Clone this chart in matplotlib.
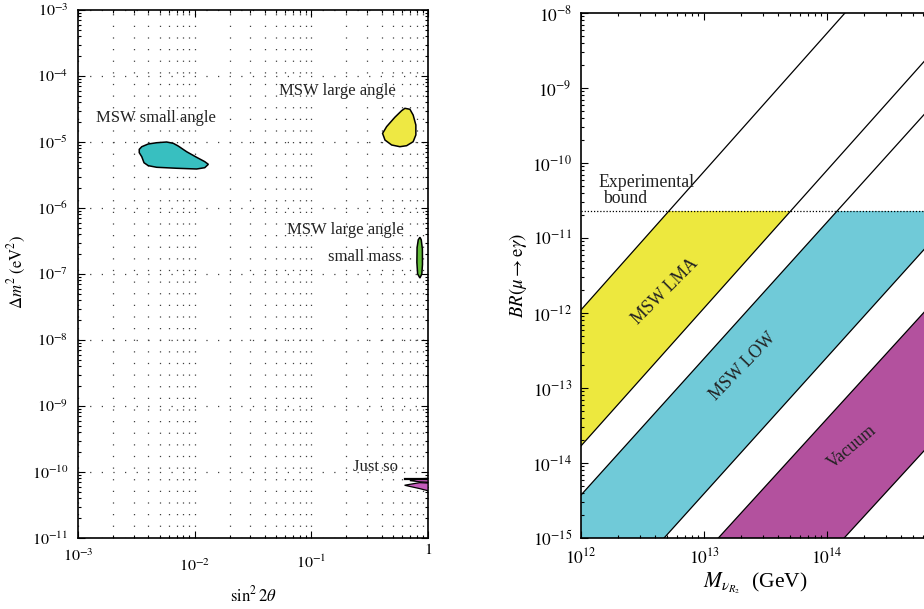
import numpy as np
import matplotlib
matplotlib.use('Agg')
import matplotlib.pyplot as plt
from matplotlib.patches import Rectangle
from matplotlib.ticker import FixedLocator, FixedFormatter, LogLocator, NullFormatter

plt.rcParams['font.family'] = 'serif'
plt.rcParams['font.serif'] = ['Liberation Serif', 'DejaVu Serif']
plt.rcParams['mathtext.fontset'] = 'stix'

# ---------------- Left panel data (solar neutrino solutions) ----------------
sma_x = [3.35e-3, 3.52e-3, 4.0e-3, 4.72e-3, 5.75e-3, 6.56e-3, 7.23e-3, 8.53e-3, 1.04e-2,
         1.22e-2, 1.31e-2, 1.22e-2, 1.04e-2, 7.0e-3, 4.72e-3, 4.0e-3, 3.68e-3, 3.52e-3, 3.35e-3]
sma_y = [7.74e-6, 8.49e-6, 9.33e-6, 9.75e-6, 1.0e-5, 9.55e-6, 8.69e-6, 7.13e-6, 5.86e-6,
         5.04e-6, 4.59e-6, 4.08e-6, 3.90e-6, 4.0e-6, 4.14e-6, 4.38e-6, 4.85e-6, 5.98e-6, 6.89e-6]

lma_x = [0.408, 0.442, 0.520, 0.594, 0.634, 0.700, 0.746, 0.787, 0.787, 0.746, 0.656, 0.574, 0.488, 0.428]
lma_y = [1.35e-5, 1.71e-5, 2.37e-5, 2.98e-5, 3.24e-5, 3.13e-5, 2.56e-5, 1.81e-5, 1.28e-5,
         1.01e-5, 8.79e-6, 8.49e-6, 9.01e-6, 1.07e-5]

low_x = [0.853, 0.875, 0.895, 0.897, 0.885, 0.853, 0.815, 0.803, 0.806, 0.825]
low_y = [3.6e-7, 3.3e-7, 2.4e-7, 1.4e-7, 1.0e-7, 8.7e-8, 1.0e-7, 1.5e-7, 2.5e-7, 3.3e-7]

js1_x = [0.70, 0.85, 1.0, 1.0, 0.85]
js1_y = [7.4e-11, 7.9e-11, 8.0e-11, 7.0e-11, 7.1e-11]
js2_x = [0.63, 0.85, 1.0, 1.0, 0.85]
js2_y = [6.3e-11, 6.9e-11, 6.8e-11, 5.2e-11, 5.6e-11]
js_line_x = [0.63, 1.0]
js_line_y = [7.8e-11, 7.8e-11]

left_xticks = [1e-3, 1e-2, 1e-1, 1]
left_xticklabels = [r'$10^{-3}$', r'$10^{-2}$', r'$10^{-1}$', r'$1$']
left_xlabel_pads = [7.2, 14.4, 12.2, 2.9]
left_yticks = [1e-11, 1e-10, 1e-9, 1e-8, 1e-7, 1e-6, 1e-5, 1e-4, 1e-3]
left_yticklabels = [r'$10^{-11}$', r'$10^{-10}$', r'$10^{-9}$', r'$10^{-8}$', r'$10^{-7}$',
                    r'$10^{-6}$', r'$10^{-5}$', r'$10^{-4}$', r'$10^{-3}$']

# ---------------- Right panel data (BR(mu -> e gamma) bands) ----------------
M_ends = [1e12, 1e15]
lma_upper = [1.10e-12, 3.76e-7]
lma_lower = [1.69e-14, 5.5e-9]
low_upper = [3.74e-15, 1.07e-9]
low_lower = [5.9e-17, 1.7e-11]
vac_upper = [9.8e-18, 2.45e-12]
vac_lower = [1.48e-19, 3.47e-14]
exp_bound = 2.3e-11

right_xticks = [1e12, 1e13, 1e14, 1e15]
right_xticklabels = [r'$10^{12}$', r'$10^{13}$', r'$10^{14}$', '']
right_yticks = [1e-15, 1e-14, 1e-13, 1e-12, 1e-11, 1e-10, 1e-9, 1e-8]
right_yticklabels = [r'$10^{-15}$', r'$10^{-14}$', r'$10^{-13}$', r'$10^{-12}$',
                     r'$10^{-11}$', r'$10^{-10}$', r'$10^{-9}$', r'$10^{-8}$']

W, H = 924, 609
fig = plt.figure(figsize=(W / 100, H / 100), dpi=100)

def frac(x0, y_top, x1, y_bot):
    return [x0 / W, 1 - y_bot / H, (x1 - x0) / W, (y_bot - y_top) / H]

axL = fig.add_axes(frac(78, 10, 428, 538))
axR = fig.add_axes(frac(581, 13, 950, 538))

for ax, ls in ((axL, 11.5), (axR, 12.5)):
    ax.set_xscale('log')
    ax.set_yscale('log')
    for s in ax.spines.values():
        s.set_linewidth(1.2)
    ax.tick_params(which='both', direction='in', top=True, right=True, width=0.8,
                   labelsize=ls)
    ax.tick_params(which='major', length=5)
    ax.tick_params(which='minor', length=2.5)

# ---------- Left ----------
axL.set_xlim(1e-3, 1)
axL.set_ylim(1e-11, 1e-3)
axL.xaxis.set_major_locator(FixedLocator(left_xticks))
axL.xaxis.set_major_formatter(FixedFormatter(left_xticklabels))
axL.xaxis.set_minor_locator(LogLocator(base=10, subs=np.arange(2, 10)))
axL.xaxis.set_minor_formatter(NullFormatter())
axL.yaxis.set_major_locator(FixedLocator(left_yticks))
axL.yaxis.set_major_formatter(FixedFormatter(left_yticklabels))
axL.yaxis.set_minor_locator(LogLocator(base=10, subs=np.arange(2, 10)))
axL.yaxis.set_minor_formatter(NullFormatter())
axL.tick_params(axis='y', which='major', pad=7)
for t, p in zip(axL.xaxis.get_major_ticks(), left_xlabel_pads):
    t.set_pad(p)

grid_ls = (0, (1, 8.3))
axL.grid(True, axis='x', which='both', color='0.25', lw=0.9, ls=grid_ls)
axL.grid(True, axis='y', which='major', color='0.25', lw=0.9, ls=grid_ls)
axL.set_axisbelow(True)

axL.fill(sma_x, sma_y, facecolor='#38bfc0', edgecolor='black', lw=1.1, zorder=3)
axL.fill(lma_x, lma_y, facecolor='#eee843', edgecolor='black', lw=1.1, zorder=3)
axL.fill(low_x, low_y, facecolor='#62bb38', edgecolor='black', lw=1.1, zorder=3)
axL.fill(js1_x, js1_y, facecolor='#c45cba', edgecolor='black', lw=0.9, zorder=3)
axL.fill(js2_x, js2_y, facecolor='#c45cba', edgecolor='black', lw=0.9, zorder=3)
axL.plot(js_line_x, js_line_y, color='black', lw=1.6, zorder=3)

tkw = dict(fontsize=12, color='#222222', zorder=4)
axL.text(10**-2.332, 10**-4.629, 'MSW small angle', ha='center', va='center', **tkw)
axL.text(10**-0.776, 10**-4.22, 'MSW large angle', ha='center', va='center', **tkw)
axL.text(10**-0.708, 10**-6.326, 'MSW large angle', ha='center', va='center', **tkw)
axL.text(10**-0.545, 10**-6.735, 'small mass', ha='center', va='center', **tkw)
axL.text(10**-0.451, 10**-9.917, 'Just so', ha='center', va='center', **tkw)

axL.set_xlabel(r'$\sin^2 2\theta$', fontsize=12)
axL.xaxis.set_label_coords(0.5, -0.108)
axL.xaxis.label.set_va('center')
axL.set_ylabel(r'$\Delta m^2\ (\mathrm{eV}^2)$', fontsize=12)
axL.yaxis.set_label_coords(-0.174, 0.505)
axL.yaxis.label.set_va('center')

# ---------- Right ----------
axR.set_xlim(1e12, 1e15)
axR.set_ylim(1e-15, 1e-8)
axR.xaxis.set_major_locator(FixedLocator(right_xticks))
axR.xaxis.set_major_formatter(FixedFormatter(right_xticklabels))
axR.xaxis.set_minor_locator(LogLocator(base=10, subs=np.arange(2, 10)))
axR.xaxis.set_minor_formatter(NullFormatter())
axR.yaxis.set_major_locator(FixedLocator(right_yticks))
axR.yaxis.set_major_formatter(FixedFormatter(right_yticklabels))
axR.yaxis.set_minor_locator(LogLocator(base=10, subs=np.arange(2, 10)))
axR.yaxis.set_minor_formatter(NullFormatter())
axR.tick_params(axis='y', which='major', pad=6.5)
axR.tick_params(axis='x', which='major', pad=6.5)

clip = Rectangle((1e12, 1e-15), 1e15 - 1e12, exp_bound - 1e-15, transform=axR.transData,
                 facecolor='none', edgecolor='none')
axR.add_patch(clip)
for lo, up, col in ((lma_lower, lma_upper, '#ede83e'),
                    (low_lower, low_upper, '#70cad8'),
                    (vac_lower, vac_upper, '#b3519e')):
    f = axR.fill_between(M_ends, lo, up, facecolor=col, edgecolor='none', zorder=1)
    f.set_clip_path(clip)

for line in (lma_upper, lma_lower, low_upper, low_lower, vac_upper, vac_lower):
    axR.plot(M_ends, line, color='black', lw=0.9, zorder=2)

axR.plot([1e12, 1e15], [exp_bound, exp_bound], color='black', lw=0.9, ls=(0, (1, 1.5)), zorder=2)

rkw = dict(fontsize=12.8, color='#222222', zorder=4)
axR.text(10**12.146, 10**-10.32, 'Experimental', ha='left', va='baseline', **rkw)
axR.text(10**12.179, 10**-10.533, 'bound', ha='left', va='baseline', **rkw)
axR.text(10**12.683, 10**-11.707, 'MSW LMA', ha='center', va='center', rotation=45,
         rotation_mode='anchor', **rkw)
axR.text(10**13.317, 10**-12.72, 'MSW LOW', ha='center', va='center', rotation=46,
         rotation_mode='anchor', **rkw)
axR.text(10**14.203, 10**-13.787, 'Vacuum', ha='center', va='center', rotation=40,
         rotation_mode='anchor', **rkw)

axR.set_xlabel(r'$M_{\nu_{R_2}}$  (GeV)', fontsize=15.5)
axR.xaxis.set_label_coords(0.4715, -0.086)
axR.xaxis.label.set_va('center')
axR.set_ylabel(r'$BR(\mu \rightarrow \mathrm{e}\gamma)$', fontsize=13.5)
axR.yaxis.set_label_coords(-0.171, 0.5)
axR.yaxis.label.set_va('center')

fig.savefig('out.png', dpi=100)
